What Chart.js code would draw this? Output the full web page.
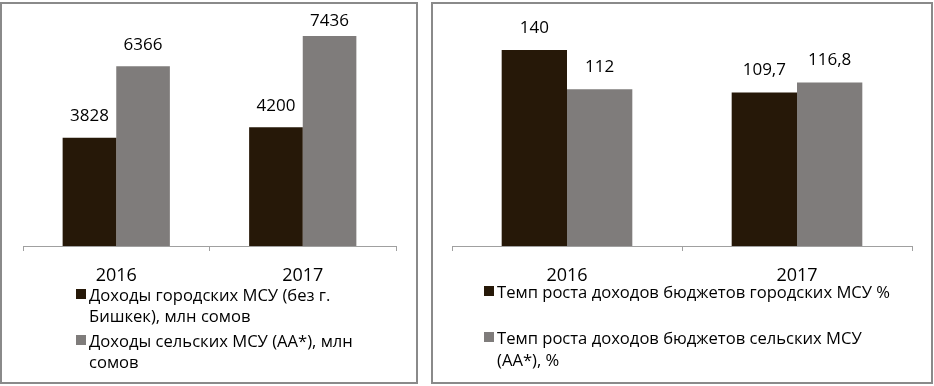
<!DOCTYPE html>
<html>
<head>
<meta charset="utf-8">
<script src="https://cdn.jsdelivr.net/npm/chart.js@4"></script>
<style>
  html, body { margin: 0; padding: 0; background: #fff; }
  body { width: 934px; height: 386px; position: relative; overflow: hidden; font-family: "Open Sans", sans-serif; }
  .box { position: absolute; border: 2px solid #8a8a8a; box-sizing: border-box; }
  canvas { position: absolute; }
  .legend { position: absolute; color: #000; font-size: 16.6px; line-height: 21px; }
  .item { position: relative; padding-left: 13px; }
  .sw { position: absolute; left: 0; top: 5px; width: 10px; height: 10px; }
</style>
</head>
<body>
<div class="box" style="left:0;top:2px;width:418px;height:382px"></div>
<div class="box" style="left:431px;top:2px;width:502px;height:382px"></div>
<canvas id="c1" width="418" height="290" style="left:0;top:0"></canvas>
<canvas id="c2" width="502" height="290" style="left:431px;top:0"></canvas>
<div class="legend" id="lg1" style="left:76px;top:284px"></div>
<div class="legend" id="lg2" style="left:484px;top:281px;line-height:22px"></div>
<script>
const categories = ['2016', '2017'];
const cityIncome = [3828, 4200];
const ruralIncome = [6366, 7436];
const cityGrowth = [140, 109.7];
const ruralGrowth = [112, 116.8];
const legend1 = ['Доходы городских МСУ (без г.<br>Бишкек), млн сомов', 'Доходы сельских МСУ (АА*), млн<br>сомов'];
const legend2 = ['Темп роста доходов бюджетов городских МСУ %', 'Темп роста доходов бюджетов сельских МСУ<br>(АА*), %'];
const colors = ['#261808', '#7f7c7b'];

function fmt(v) { return String(v).replace('.', ','); }

const labelPlugin = {
  id: 'barLabels',
  afterDatasetsDraw(chart, args, opts) {
    const ctx = chart.ctx;
    ctx.save();
    ctx.font = '17px "Open Sans"';
    ctx.fillStyle = '#000';
    ctx.textAlign = 'center';
    ctx.textBaseline = 'middle';
    chart.data.datasets.forEach((ds, i) => {
      chart.getDatasetMeta(i).data.forEach((bar, j) => {
        const y = Math.max(bar.y - opts.offset, chart.chartArea.top + 1);
        ctx.fillText(fmt(ds.data[j]), bar.x, y);
      });
    });
    ctx.restore();
  }
};

function makeChart(id, a, b, max, pad, catPct, offset) {
  return new Chart(document.getElementById(id), {
    type: 'bar',
    data: {
      labels: categories,
      datasets: [
        { data: a, backgroundColor: colors[0], borderWidth: 0 },
        { data: b, backgroundColor: colors[1], borderWidth: 0 }
      ]
    },
    options: {
      responsive: false,
      animation: false,
      devicePixelRatio: 1,
      layout: { padding: pad },
      datasets: { bar: { barPercentage: 1, categoryPercentage: catPct } },
      plugins: { legend: { display: false }, tooltip: { enabled: false }, barLabels: { offset: offset } },
      scales: {
        x: {
          offset: true,
          grid: { display: true, offset: true, drawOnChartArea: false, drawTicks: true, tickLength: 5, color: '#a0a0a0' },
          border: { display: true, color: '#a0a0a0', width: 1 },
          ticks: { color: '#000', font: { family: 'Open Sans', size: 18 }, padding: 14 },
          afterFit(s) { s.height = 44; }
        },
        y: { display: false, min: 0, max: max }
      }
    },
    plugins: [labelPlugin]
  });
}

makeChart('c1', cityIncome, ruralIncome, 8000, { left: 23, right: 22, top: 20, bottom: 0 }, 0.575, 21.5);
makeChart('c2', cityGrowth, ruralGrowth, 160, { left: 21, right: 21, top: 22, bottom: 0 }, 0.568, 22);

function buildLegend(id, texts, gap) {
  const el = document.getElementById(id);
  texts.forEach((t, i) => {
    const d = document.createElement('div');
    d.className = 'item';
    d.style.marginTop = i ? gap + 'px' : '0';
    d.innerHTML = '<span class="sw" style="background:' + colors[i] + '"></span>' + t;
    el.appendChild(d);
  });
}
buildLegend('lg1', legend1, 4);
buildLegend('lg2', legend2, 24);
</script>
</body>
</html>
